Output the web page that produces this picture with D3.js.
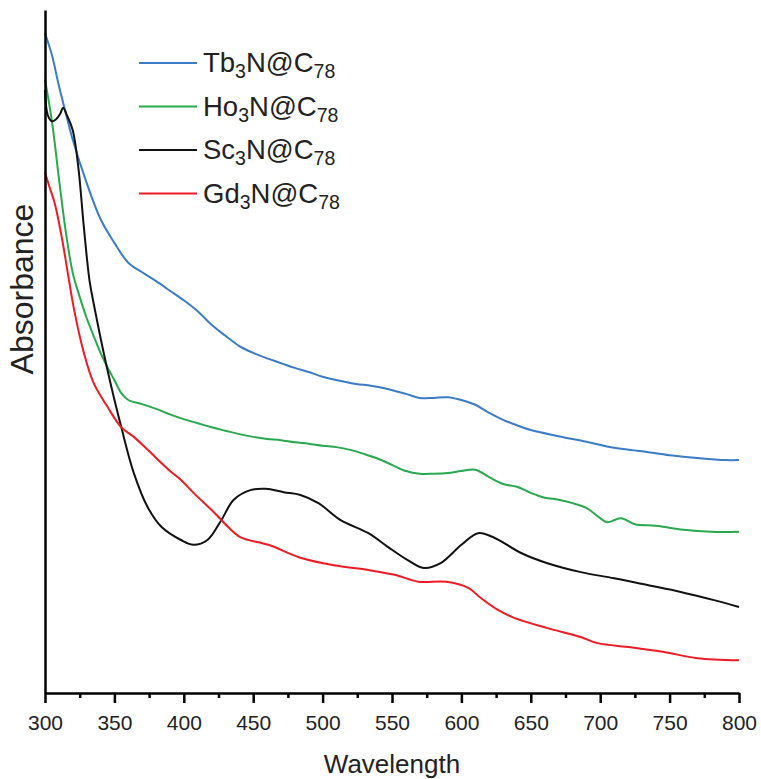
<!DOCTYPE html>
<html>
<head>
<meta charset="utf-8">
<script src="https://cdn.jsdelivr.net/npm/d3@7/dist/d3.min.js"></script>
<style>
  html, body { margin: 0; padding: 0; background: #fff; }
  svg { display: block; font-family: "Liberation Sans", Arial, Helvetica, sans-serif; }
</style>
</head>
<body>
<svg id="chart" width="761" height="779"></svg>
<script>
// UV-vis-NIR absorption spectra of M3N@C78 endohedral fullerenes (arbitrary units)

const xTicks = [300, 350, 400, 450, 500, 550, 600, 650, 700, 750, 800];
const xMinorTicks = [325, 375, 425, 475, 525, 575, 625, 675, 725, 775];

const tbWavelength = [300,305,310,315,320,330,340,350,360,370,380,390,400,410,420,430,440,450,460,470,480,490,500,520,540,560,570,580,590,600,610,620,630,640,650,670,690,710,730,750,770,790,800];
const tbAbsorbance = [0.966,0.934,0.889,0.849,0.810,0.747,0.694,0.659,0.630,0.616,0.603,0.589,0.575,0.559,0.539,0.523,0.508,0.498,0.490,0.483,0.476,0.470,0.463,0.454,0.448,0.438,0.432,0.432,0.433,0.429,0.422,0.410,0.400,0.392,0.385,0.376,0.368,0.359,0.354,0.348,0.344,0.341,0.341];

const hoWavelength = [300,305,310,315,320,325,330,335,340,345,350,355,360,370,380,390,400,410,420,430,440,450,460,470,480,490,500,510,520,530,540,550,560,570,580,590,600,610,620,630,640,650,660,670,680,690,700,705,715,725,740,760,780,800];
const hoAbsorbance = [0.898,0.837,0.754,0.675,0.615,0.580,0.549,0.523,0.498,0.477,0.458,0.439,0.429,0.423,0.416,0.408,0.401,0.395,0.389,0.384,0.379,0.375,0.372,0.370,0.367,0.365,0.362,0.360,0.356,0.350,0.343,0.334,0.325,0.321,0.321,0.322,0.325,0.327,0.316,0.306,0.302,0.293,0.286,0.283,0.278,0.271,0.256,0.250,0.256,0.247,0.245,0.239,0.236,0.236];

const scWavelength = [300,302,305,308,311,313,316,320,324,328,332,335,345,355,364,374,384,398,407,417,427,436,448,459,472,484,497,513,533,547,561,573,585,600,612,623,643,662,686,710,734,758,782,800];
const scAbsorbance = [0.883,0.846,0.837,0.840,0.848,0.857,0.845,0.824,0.770,0.682,0.605,0.571,0.473,0.389,0.322,0.272,0.243,0.224,0.217,0.224,0.253,0.283,0.297,0.299,0.294,0.290,0.278,0.253,0.234,0.214,0.195,0.183,0.190,0.217,0.234,0.228,0.205,0.190,0.177,0.168,0.158,0.148,0.136,0.126];

const gdWavelength = [300,304,307,312,317,321,328,335,345,355,364,374,389,398,407,422,432,441,461,484,508,533,552,569,589,605,614,626,638,662,686,698,722,746,770,800];
const gdAbsorbance = [0.762,0.736,0.717,0.668,0.608,0.561,0.498,0.454,0.419,0.389,0.375,0.356,0.327,0.312,0.293,0.264,0.243,0.228,0.217,0.198,0.187,0.180,0.173,0.163,0.163,0.154,0.139,0.122,0.110,0.095,0.082,0.073,0.067,0.060,0.051,0.048];

// legend entries: metal symbol, colour, wavelength / absorbance arrays
const series = [
  { metal: "Tb", color: "#3a7cc6", wl: tbWavelength, abs: tbAbsorbance },
  { metal: "Ho", color: "#2aa84e", wl: hoWavelength, abs: hoAbsorbance },
  { metal: "Sc", color: "#111111", wl: scWavelength, abs: scAbsorbance },
  { metal: "Gd", color: "#ec1c24", wl: gdWavelength, abs: gdAbsorbance }
];

const svg = d3.select("#chart");
const x = d3.scaleLinear().domain([300, 800]).range([45, 739]);
const y = d3.scaleLinear().domain([0, 1]).range([693, 10]);

// spectra
const line = d3.line()
  .x(d => x(d[0]))
  .y(d => y(d[1]))
  .curve(d3.curveCatmullRom.alpha(0.5));

svg.append("g").selectAll("path")
  .data(series)
  .join("path")
  .attr("d", s => line(d3.zip(s.wl, s.abs)))
  .attr("fill", "none")
  .attr("stroke", s => s.color)
  .attr("stroke-width", 2)
  .attr("stroke-linejoin", "round");

// x axis: labelled ticks every 50 nm, minor ticks in between
const gx = svg.append("g").attr("transform", `translate(0,${y(0)})`);
gx.call(d3.axisBottom(x).tickValues(xTicks).tickSize(10).tickSizeOuter(0).tickPadding(12).tickFormat(d3.format("d")));
const gxMinor = svg.append("g").attr("transform", `translate(0,${y(0)})`);
gxMinor.call(d3.axisBottom(x).tickValues(xMinorTicks).tickSize(5).tickSizeOuter(0).tickFormat(""));
gxMinor.select(".domain").remove();
svg.selectAll(".domain, .tick line").attr("stroke", "#000").attr("stroke-width", 2.5);
gx.selectAll(".tick text")
  .attr("fill", "#222")
  .style("font-size", "21px")
  .style("font-family", "'Liberation Sans', Arial, sans-serif");

// y axis: bare line, no ticks
const gy = svg.append("g").attr("transform", `translate(${x(300)},0)`);
gy.call(d3.axisLeft(y).tickValues([]).tickSizeOuter(0));
gy.select(".domain").attr("stroke", "#000").attr("stroke-width", 2.5);

// axis titles
svg.append("text")
  .attr("x", 392).attr("y", 773)
  .attr("text-anchor", "middle")
  .attr("fill", "#222")
  .style("font-size", "26px")
  .text("Wavelength");

svg.append("text")
  .attr("transform", "translate(33,289) rotate(-90)")
  .attr("text-anchor", "middle")
  .attr("fill", "#222")
  .style("font-size", "32px")
  .text("Absorbance");

// legend
const legend = svg.append("g");
const legendRows = legend.selectAll("g")
  .data(series)
  .join("g")
  .attr("transform", (d, i) => `translate(139,${63 + i * 43.5})`);

legendRows.append("line")
  .attr("x1", 0).attr("x2", 58)
  .attr("stroke", d => d.color)
  .attr("stroke-width", 2);

const label = legendRows.append("text")
  .attr("x", 64).attr("y", 9)
  .attr("fill", "#222")
  .style("font-size", "27.5px");
label.append("tspan").text(d => d.metal);
label.append("tspan").attr("dy", 6).style("font-size", "19.5px").text("3");
label.append("tspan").attr("dy", -6).text("N@C");
label.append("tspan").attr("dy", 6).style("font-size", "19.5px").text("78");
</script>
</body>
</html>
